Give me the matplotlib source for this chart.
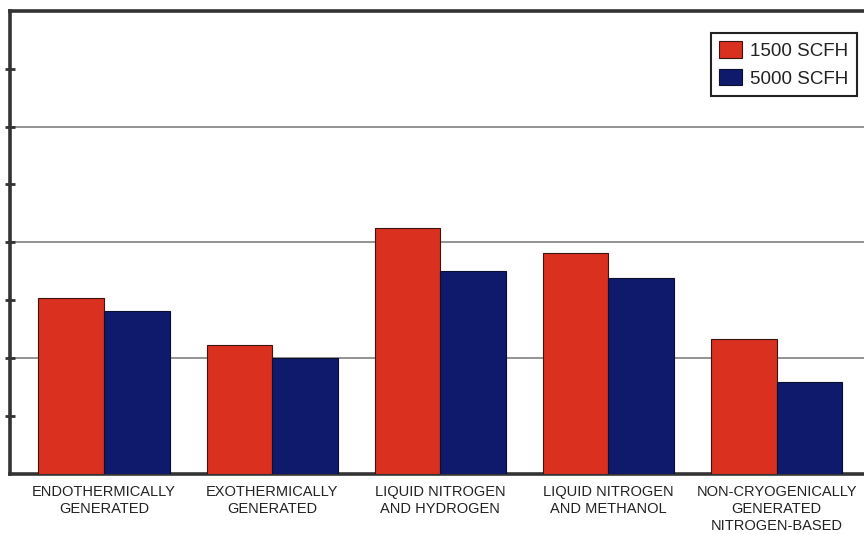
import numpy as np
import matplotlib
matplotlib.use('Agg')
import matplotlib.pyplot as plt

plt.rcParams['font.family'] = ['Liberation Sans', 'DejaVu Sans']

categories = ['ENDOTHERMICALLY\nGENERATED', 'EXOTHERMICALLY\nGENERATED',
              'LIQUID NITROGEN\nAND HYDROGEN', 'LIQUID NITROGEN\nAND METHANOL',
              'NON-CRYOGENICALLY\nGENERATED\nNITROGEN-BASED']
flow_1500 = [3.04, 2.22, 4.25, 3.81, 2.32]
flow_5000 = [2.81, 2.00, 3.51, 3.39, 1.59]
series_labels = ['1500 SCFH', '5000 SCFH']

red = '#d9301f'
blue = '#0f1a6c'

fig = plt.figure(figsize=(8.64, 5.34), dpi=100)
ax = fig.add_axes([10 / 864, 60.5 / 534, 1 - 10 / 864, 462.5 / 534])

x = np.arange(len(categories))
w = 0.39
ax.bar(x - w / 2, flow_1500, w, color=red, edgecolor='#3a1410', linewidth=0.8,
       label=series_labels[0], zorder=3)
ax.bar(x + w / 2, flow_5000, w, color=blue, edgecolor='#0a0f30', linewidth=0.8,
       label=series_labels[1], zorder=3)

ax.set_xlim(-0.559, 4.52)
ax.set_ylim(0, 8)
ax.set_yticks([1, 2, 3, 4, 5, 6, 7])
ax.set_yticklabels([])
ax.tick_params(axis='y', direction='inout', length=7, width=2, color='#333333')
for g in [2, 4, 6]:
    ax.axhline(g, color='#8a8a8a', linewidth=1.3, zorder=1)

ax.set_xticks(x)
ax.set_xticklabels(categories, fontsize=10.5, color='#222222', linespacing=1.3)
ax.tick_params(axis='x', length=0, pad=8)

for side in ['left', 'top', 'bottom']:
    ax.spines[side].set_linewidth(2.6)
    ax.spines[side].set_color('#333333')
ax.spines['right'].set_visible(False)

leg = ax.legend(loc='upper right', bbox_to_anchor=(857 / 864, 1 - 33 / 534),
                bbox_transform=fig.transFigure, borderaxespad=0, fontsize=13.5,
                handlelength=1.2, handleheight=1.0, labelspacing=0.45,
                handletextpad=0.45, borderpad=0.45, fancybox=False,
                edgecolor='#222222', framealpha=1)
leg.get_frame().set_linewidth(1.5)
for t in leg.get_texts():
    t.set_color('#222222')

fig.savefig('out.png', dpi=100)
